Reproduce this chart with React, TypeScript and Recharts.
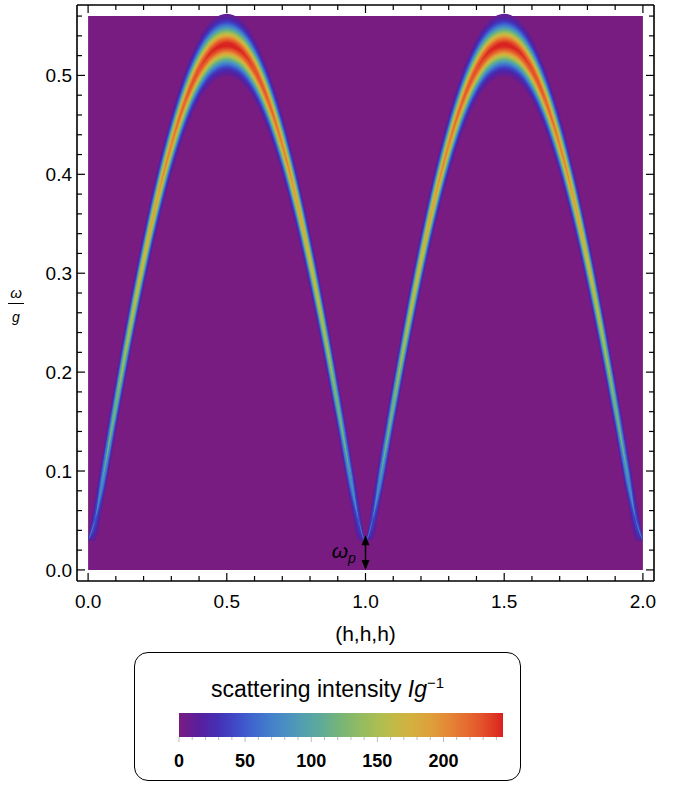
import React from "react";
import {
  ComposedChart,
  Area,
  XAxis,
  YAxis,
  ReferenceLine,
  ReferenceDot,
  ReferenceArea,
} from "recharts";

// momentum along (h,h,h)
const hValues = [
  0.0, 0.025, 0.05, 0.1, 0.15, 0.2, 0.25, 0.3, 0.35, 0.4, 0.45, 0.5, 0.55, 0.6,
  0.65, 0.7, 0.75, 0.8, 0.85, 0.9, 0.95, 0.975, 1.0, 1.025, 1.05, 1.1, 1.15,
  1.2, 1.25, 1.3, 1.35, 1.4, 1.45, 1.5, 1.55, 1.6, 1.65, 1.7, 1.75, 1.8, 1.85,
  1.9, 1.95, 1.975, 2.0,
];

// centre of the band, omega / g
const omegaPeak = [
  0.03, 0.051, 0.088, 0.167, 0.243, 0.313, 0.376, 0.43, 0.474, 0.506, 0.525,
  0.531, 0.525, 0.506, 0.474, 0.43, 0.376, 0.313, 0.243, 0.167, 0.088, 0.051,
  0.03, 0.051, 0.088, 0.167, 0.243, 0.313, 0.376, 0.43, 0.474, 0.506, 0.525,
  0.531, 0.525, 0.506, 0.474, 0.43, 0.376, 0.313, 0.243, 0.167, 0.088, 0.051,
  0.03,
];

// peak scattering intensity on the band
const peakIntensity = [
  8, 42, 80, 120, 148, 170, 190, 206, 220, 232, 241, 245, 241, 232, 220, 206,
  190, 170, 148, 120, 80, 42, 8, 42, 80, 120, 148, 170, 190, 206, 220, 232, 241,
  245, 241, 232, 220, 206, 190, 170, 148, 120, 80, 42, 8,
];

// spectral width of the band (omega / g)
const bandSigma = 0.012;
const omegaP = 0.035;

const xTicks = [
  0, 0.1, 0.2, 0.3, 0.4, 0.5, 0.6, 0.7, 0.8, 0.9, 1, 1.1, 1.2, 1.3, 1.4, 1.5,
  1.6, 1.7, 1.8, 1.9, 2,
];
const xMajor = [0, 0.5, 1, 1.5, 2];
const yTicks = [
  0, 0.02, 0.04, 0.06, 0.08, 0.1, 0.12, 0.14, 0.16, 0.18, 0.2, 0.22, 0.24,
  0.26, 0.28, 0.3, 0.32, 0.34, 0.36, 0.38, 0.4, 0.42, 0.44, 0.46, 0.48, 0.5,
  0.52, 0.54, 0.56,
];
const yMajor = [0, 0.1, 0.2, 0.3, 0.4, 0.5];

const barTicks = [
  0, 10, 20, 30, 40, 50, 60, 70, 80, 90, 100, 110, 120, 130, 140, 150, 160,
  170, 180, 190, 200, 210, 220, 230, 240,
];
const barMajor = [0, 50, 100, 150, 200];
const intensityMax = 245;

const rainbow: [number, string][] = [
  [0, "#781c81"],
  [0.06, "#5a1e9c"],
  [0.12, "#4530b5"],
  [0.18, "#3f4dc8"],
  [0.22, "#3f63cf"],
  [0.28, "#437fcb"],
  [0.33, "#4a8fc1"],
  [0.38, "#529faf"],
  [0.43, "#5ca99c"],
  [0.5, "#78b576"],
  [0.56, "#93bb61"],
  [0.62, "#aebe50"],
  [0.67, "#c5b946"],
  [0.72, "#d4b03f"],
  [0.78, "#de9e3a"],
  [0.83, "#e48836"],
  [0.88, "#e56f31"],
  [0.93, "#e4552b"],
  [0.97, "#de3a24"],
  [1, "#d92120"],
];

const FONT = "'Liberation Sans', Arial, sans-serif";

function hexToRgb(hex: string) {
  const n = parseInt(hex.slice(1), 16);
  return [(n >> 16) & 255, (n >> 8) & 255, n & 255];
}

function rainbowColor(t: number) {
  const v = Math.max(0, Math.min(1, t));
  for (let i = 1; i < rainbow.length; i++) {
    const [p1, c1] = rainbow[i];
    const [p0, c0] = rainbow[i - 1];
    if (v <= p1) {
      const f = (v - p0) / (p1 - p0);
      const a = hexToRgb(c0);
      const b = hexToRgb(c1);
      const m = a.map((x, k) => Math.round(x + (b[k] - x) * f));
      return `rgb(${m[0]},${m[1]},${m[2]})`;
    }
  }
  return rainbow[rainbow.length - 1][1];
}

// contour levels used to paint the band as nested areas
const levels: number[] = [];
for (let L = 8; L <= 240; L += 8) levels.push(L);

const chartData = hValues.map((h, i) => {
  const row: any = { h };
  const c = omegaPeak[i];
  const A = peakIntensity[i];
  levels.forEach((L, k) => {
    const w = A > L ? bandSigma * Math.sqrt(2 * Math.log(A / L)) : 0;
    row["b" + k] = [Math.max(0, c - w), c + w];
  });
  return row;
});

const isIn = (v: number, list: number[]) =>
  list.some((m) => Math.abs(m - v) < 1e-6);

const BottomTick = (props: any) => {
  const { x, y, payload } = props;
  const major = isIn(payload.value, xMajor);
  return (
    <g>
      <line x1={x} y1={y} x2={x} y2={y - (major ? 8 : 5)} stroke="#000" strokeWidth={1.2} />
      {major && (
        <text x={x} y={y + 27} textAnchor="middle" fontSize={19} fontFamily={FONT} fill="#000">
          {Number(payload.value).toFixed(1)}
        </text>
      )}
    </g>
  );
};

const TopTick = (props: any) => {
  const { x, y, payload } = props;
  const major = isIn(payload.value, xMajor);
  return <line x1={x} y1={y} x2={x} y2={y + (major ? 8 : 5)} stroke="#000" strokeWidth={1.2} />;
};

const LeftTick = (props: any) => {
  const { x, y, payload } = props;
  const major = isIn(payload.value, yMajor);
  return (
    <g>
      <line x1={x} y1={y} x2={x + (major ? 8 : 5)} y2={y} stroke="#000" strokeWidth={1.2} />
      {major && (
        <text x={x - 5} y={y + 7} textAnchor="end" fontSize={19} fontFamily={FONT} fill="#000">
          {Number(payload.value).toFixed(1)}
        </text>
      )}
    </g>
  );
};

const RightTick = (props: any) => {
  const { x, y, payload } = props;
  const major = isIn(payload.value, yMajor);
  return <line x1={x} y1={y} x2={x - (major ? 8 : 5)} y2={y} stroke="#000" strokeWidth={1.2} />;
};

const BarTick = (props: any) => {
  const { x, y, payload } = props;
  const major = isIn(payload.value, barMajor);
  return (
    <g>
      <line x1={x} y1={y} x2={x} y2={y + (major ? 5 : 3)} stroke="#bbb" strokeWidth={1} />
      {major && (
        <text x={x} y={y + 30} textAnchor="middle" fontSize={18} fontWeight="bold" fontFamily={FONT} fill="#000">
          {payload.value}
        </text>
      )}
    </g>
  );
};

const DoubleArrow = (props: any) => {
  const { x1, y1, x2, y2 } = props;
  const top = Math.min(y1, y2);
  const bot = Math.max(y1, y2);
  return (
    <g>
      <line x1={x1} y1={top + 7} x2={x2} y2={bot - 7} stroke="#000" strokeWidth={1.5} />
      <path d={`M${x1},${top} L${x1 - 4},${top + 10} L${x1 + 4},${top + 10} Z`} fill="#000" />
      <path d={`M${x1},${bot} L${x1 - 4},${bot - 10} L${x1 + 4},${bot - 10} Z`} fill="#000" />
    </g>
  );
};

const OmegaPText = (props: any) => {
  const { cx, cy } = props;
  return (
    <text x={cx} y={cy} fontFamily={FONT} fill="#000" textAnchor="end">
      <tspan fontSize={21} fontStyle="italic">ω</tspan>
      <tspan fontSize={14} fontStyle="italic" dy={5}>p</tspan>
    </text>
  );
};

const gradientCss = `linear-gradient(to right, ${rainbow
  .map(([p, c]) => `${c} ${(p * 100).toFixed(1)}%`)
  .join(", ")})`;

export default function App() {
  const barData = barTicks.map((v) => ({ v }));
  return (
    <div style={{ position: "absolute", left: 0, top: 0, width: 685, height: 788, background: "#fff", fontFamily: FONT }}>
      <div style={{ position: "absolute", left: 0, top: 0 }}>
        <ComposedChart
          width={685}
          height={660}
          data={chartData}
          margin={{ top: 4, right: 30, left: 27, bottom: 39 }}
        >
          <XAxis
            xAxisId="b"
            dataKey="h"
            type="number"
            domain={[-0.04, 2.04]}
            allowDataOverflow
            ticks={xTicks}
            interval={0}
            tickSize={0}
            tickMargin={0}
            tickLine={false}
            axisLine={{ stroke: "#000", strokeWidth: 1.6 }}
            tick={<BottomTick />}
            height={40}
            label={{ value: "(h,h,h)", position: "bottom", offset: 5, fontSize: 21, fill: "#000", fontFamily: FONT }}
          />
          <XAxis
            xAxisId="t"
            orientation="top"
            dataKey="h"
            type="number"
            domain={[-0.04, 2.04]}
            allowDataOverflow
            ticks={xTicks}
            interval={0}
            tickSize={0}
            tickMargin={0}
            tickLine={false}
            axisLine={{ stroke: "#000", strokeWidth: 1.6 }}
            tick={<TopTick />}
            height={1}
          />
          <YAxis
            yAxisId="l"
            type="number"
            domain={[-0.0112, 0.5712]}
            allowDataOverflow
            ticks={yTicks}
            interval={0}
            tickSize={0}
            tickMargin={0}
            tickLine={false}
            axisLine={{ stroke: "#000", strokeWidth: 1.6 }}
            tick={<LeftTick />}
            width={50}
          />
          <YAxis
            yAxisId="r"
            orientation="right"
            type="number"
            domain={[-0.0112, 0.5712]}
            allowDataOverflow
            ticks={yTicks}
            interval={0}
            tickSize={0}
            tickMargin={0}
            tickLine={false}
            axisLine={{ stroke: "#000", strokeWidth: 1.6 }}
            tick={<RightTick />}
            width={1}
          />
          <ReferenceArea
            xAxisId="b"
            yAxisId="l"
            x1={0}
            x2={2}
            y1={0}
            y2={0.56}
            fill="#781c81"
            fillOpacity={1}
            stroke="none"
          />
          {levels.map((L, k) => (
            <Area
              key={k}
              xAxisId="b"
              yAxisId="l"
              type="monotone"
              dataKey={"b" + k}
              stroke="none"
              fill={rainbowColor((L + 4) / intensityMax)}
              fillOpacity={1}
              dot={false}
              activeDot={false}
              isAnimationActive={false}
            />
          ))}
          <ReferenceLine
            xAxisId="b"
            yAxisId="l"
            segment={[
              { x: 1, y: 0 },
              { x: 1, y: omegaP },
            ]}
            shape={<DoubleArrow />}
          />
          <ReferenceDot
            xAxisId="b"
            yAxisId="l"
            x={0.965}
            y={0.012}
            r={0}
            shape={<OmegaPText />}
          />
        </ComposedChart>
      </div>

      {/* y axis label: omega over g */}
      <div style={{ position: "absolute", left: 8, top: 283, width: 16, textAlign: "center", fontStyle: "italic", color: "#000" }}>
        <div style={{ fontSize: 15, lineHeight: "20px", borderBottom: "1px solid #000" }}>ω</div>
        <div style={{ fontSize: 14, lineHeight: "26px" }}>g</div>
      </div>

      <div
        style={{
          position: "absolute",
          left: 134,
          top: 652,
          width: 387,
          height: 129,
          boxSizing: "border-box",
          border: "1.5px solid #000",
          borderRadius: 14,
        }}
      />
      <div
        style={{
          position: "absolute",
          left: 134,
          top: 668,
          width: 387,
          textAlign: "center",
          fontSize: 23,
          lineHeight: "30px",
          color: "#000",
        }}
      >
        scattering intensity <i>Ig</i>
        <sup style={{ fontSize: 15 }}>−1</sup>
      </div>
      <div
        style={{
          position: "absolute",
          left: 179,
          top: 713,
          width: 324,
          height: 24,
          background: gradientCss,
        }}
      />
      <div style={{ position: "absolute", left: 160, top: 700 }}>
        <ComposedChart
          width={365}
          height={80}
          data={barData}
          margin={{ top: 13, right: 22, left: 19, bottom: 13 }}
        >
          <XAxis
            dataKey="v"
            type="number"
            domain={[0, intensityMax]}
            allowDataOverflow
            ticks={barTicks}
            interval={0}
            tickSize={0}
            tickMargin={0}
            tickLine={false}
            axisLine={false}
            tick={<BarTick />}
            height={30}
          />
          <YAxis type="number" domain={[0, 1]} hide />
        </ComposedChart>
      </div>
    </div>
  );
}
